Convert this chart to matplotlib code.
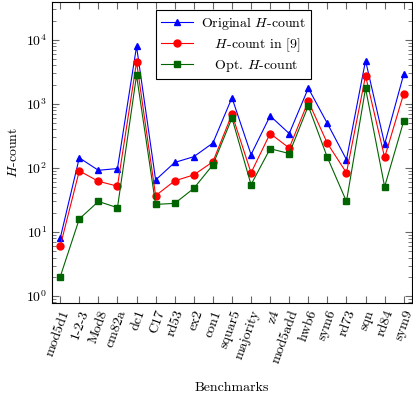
import numpy as np
import matplotlib
matplotlib.use("Agg")
import matplotlib.pyplot as plt
from matplotlib.ticker import LogLocator, NullFormatter

plt.rcParams['font.family'] = 'serif'
plt.rcParams['font.serif'] = ['cmr10', 'DejaVu Serif']
plt.rcParams['mathtext.fontset'] = 'cm'
plt.rcParams['axes.formatter.use_mathtext'] = True
plt.rcParams['font.size'] = 10

benchmarks = ["mod5d1", "1-2-3", "Mod8", "cm82a", "dc1", "C17", "rd53", "ex2",
              "con1", "squar5", "majority", "z4", "mod5add", "hwb6", "sym6",
              "rd73", "sqn", "rd84", "sym9"]
orig_h = [8, 144, 92, 98, 7900, 65, 122, 150, 245, 1250, 162, 650, 345, 1760,
          495, 135, 4750, 236, 2900]
h_ref9 = [6, 90, 62, 52, 4500, 37, 63, 78, 125, 690, 84, 345, 205, 1100, 242,
          84, 2750, 146, 1450]
opt_h = [2, 16, 30, 24, 2800, 27, 28, 48, 112, 600, 55, 200, 168, 930, 146,
         30, 1750, 51, 540]

x = np.arange(len(benchmarks))

fig = plt.figure(figsize=(4.14, 3.99), dpi=100)
ax = fig.add_axes([0.1256, 0.2406, 0.8694, 0.7544])

ax.plot(x, orig_h, color='blue', marker='^', ms=5, lw=0.8,
        label='Original $H$-count')
ax.plot(x, h_ref9, color='red', marker='o', ms=5, lw=0.8,
        label='   $H$-count in [9]')
ax.plot(x, opt_h, color='#006400', marker='s', ms=4.5, lw=0.8,
        label='   Opt. $H$-count')

ax.set_yscale('log')
ax.set_ylim(0.78, 39000)
ax.set_xlim(-0.43, len(benchmarks) - 1 + 0.43)
ax.yaxis.set_major_locator(LogLocator(base=10, numticks=10))
ax.yaxis.set_minor_locator(LogLocator(base=10, subs=np.arange(2, 10), numticks=10))
ax.yaxis.set_minor_formatter(NullFormatter())

ax.set_xticks(x)
ax.set_xticklabels(benchmarks, rotation=70, ha='right', va='top',
                   rotation_mode='anchor')
ax.tick_params(which='both', direction='in', top=True, right=True,
               color='#666666')
ax.tick_params(which='major', length=5)
ax.tick_params(which='minor', length=3)
ax.tick_params(axis='x', pad=4)

ax.set_ylabel('$H$-count')
ax.set_xlabel('Benchmarks', labelpad=12)

leg = ax.legend(loc='upper center', bbox_to_anchor=(0.505, 0.995),
                fancybox=False, edgecolor='black', framealpha=1,
                handlelength=2.3, borderpad=0.35, labelspacing=0.3,
                handletextpad=0.6)
leg.get_frame().set_linewidth(0.8)

plt.savefig('out.png', dpi=100)
